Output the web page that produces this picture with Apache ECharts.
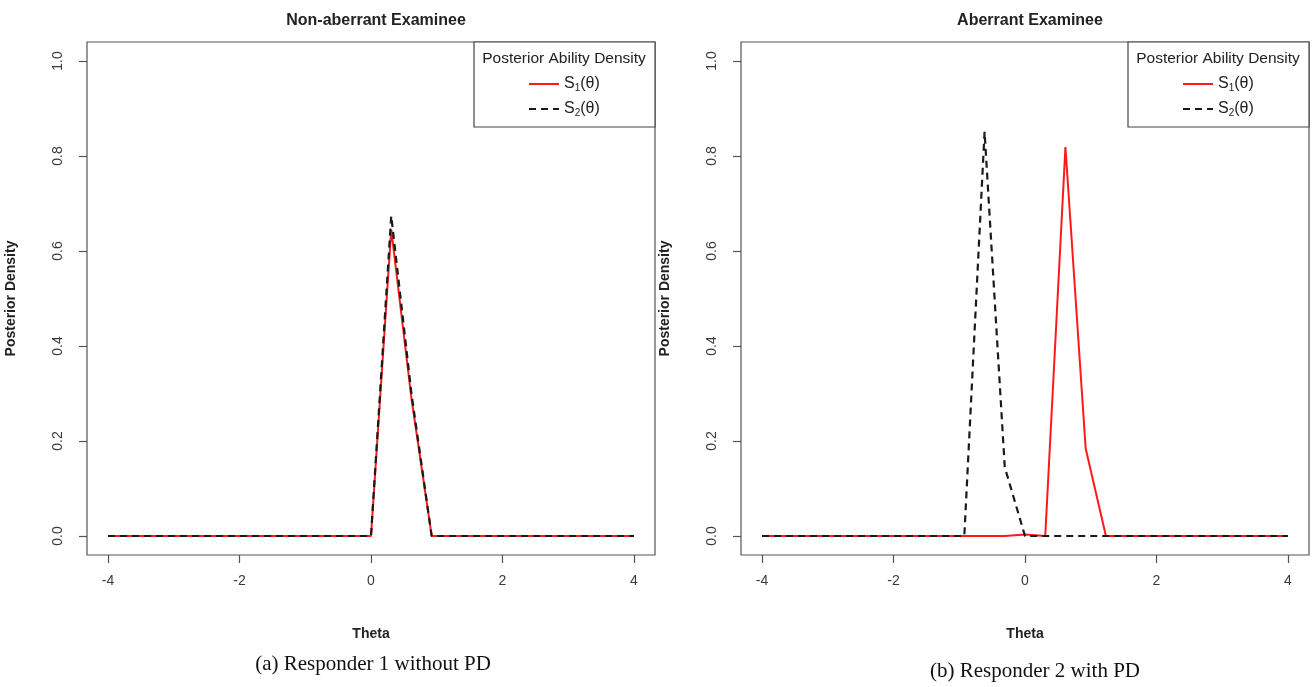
<!DOCTYPE html>
<html>
<head>
<meta charset="utf-8">
<script src="https://cdn.jsdelivr.net/npm/echarts@6/dist/echarts.min.js"></script>
<style>
  html, body { margin: 0; padding: 0; background: #fff; }
  #chart { width: 1316px; height: 687px; }
</style>
</head>
<body>
<div id="chart"></div>
<script>
// quadrature points for theta (27 points, -4 .. 4)
const theta = [
  -4, -3.692, -3.385, -3.077, -2.769, -2.462, -2.154, -1.846, -1.538,
  -1.231, -0.923, -0.615, -0.308, 0, 0.308, 0.615, 0.923, 1.231,
  1.538, 1.846, 2.154, 2.462, 2.769, 3.077, 3.385, 3.692, 4,
];

// (a) non-aberrant examinee
const s1NonAberrant = [
  0, 0, 0, 0, 0, 0, 0, 0, 0, 0, 0, 0, 0, 0, 0.645, 0.29, 0, 0,
  0, 0, 0, 0, 0, 0, 0, 0, 0,
];
const s2NonAberrant = [
  0, 0, 0, 0, 0, 0, 0, 0, 0, 0, 0, 0, 0, 0, 0.674, 0.3, 0, 0,
  0, 0, 0, 0, 0, 0, 0, 0, 0,
];

// (b) aberrant examinee
const s1Aberrant = [
  0, 0, 0, 0, 0, 0, 0, 0, 0, 0, 0, 0, 0, 0.003, 0, 0.819, 0.184, 0,
  0, 0, 0, 0, 0, 0, 0, 0, 0,
];
const s2Aberrant = [
  0, 0, 0, 0, 0, 0, 0, 0, 0, 0, 0, 0.851, 0.145, 0, 0, 0, 0, 0,
  0, 0, 0, 0, 0, 0, 0, 0, 0,
];

const xTicks = [-4, -2, 0, 2, 4];
const yTicks = [0, 0.2, 0.4, 0.6, 0.8, 1.0];

const panelTitles = ['Non-aberrant Examinee', 'Aberrant Examinee'];
const captions = ['(a) Responder 1 without PD', '(b) Responder 2 with PD'];
const legendTitle = 'Posterior Ability Density';
const seriesNames = ['S1', 'S2'];
const legendLabels = { S1: 'S{sub|1}(θ)', S2: 'S{sub|2}(θ)' };

const FONT = '"Liberation Sans", Arial, sans-serif';
const gridLefts = [87, 741];

function pairs(values) {
  return theta.map((t, i) => [t, values[i]]);
}

function makeXAxis(gridIndex) {
  return {
    type: 'value',
    gridIndex,
    min: -4.32,
    max: 4.32,
    name: 'Theta',
    nameLocation: 'middle',
    nameGap: 72,
    nameTextStyle: { fontFamily: FONT, fontWeight: 'bold', fontSize: 14, color: '#222' },
    axisLine: { show: false, onZero: false },
    splitLine: { show: false },
    axisTick: { show: true, inside: false, length: 8, customValues: xTicks, lineStyle: { color: '#555', width: 1.2 } },
    axisLabel: {
      customValues: xTicks,
      margin: 19,
      fontFamily: FONT,
      fontSize: 14,
      color: '#3a3a3a',
      formatter: (v) => String(v),
    },
  };
}

function makeYAxis(gridIndex) {
  return {
    type: 'value',
    gridIndex,
    min: -0.04,
    max: 1.04,
    name: 'Posterior Density',
    nameLocation: 'middle',
    nameGap: 69,
    nameRotate: 90,
    nameTextStyle: { fontFamily: FONT, fontWeight: 'bold', fontSize: 14, color: '#222' },
    axisLine: { show: false, onZero: false },
    splitLine: { show: false },
    axisTick: { show: true, inside: false, length: 8, customValues: yTicks, lineStyle: { color: '#555', width: 1.2 } },
    axisLabel: {
      customValues: yTicks,
      rotate: 90,
      margin: 22,
      fontFamily: FONT,
      fontSize: 14,
      color: '#3a3a3a',
      formatter: (v) => v.toFixed(1),
    },
  };
}

function makeSeries(gridIndex, s1, s2) {
  return [
    {
      name: seriesNames[0],
      type: 'line',
      xAxisIndex: gridIndex,
      yAxisIndex: gridIndex,
      data: pairs(s1),
      symbol: 'none',
      lineStyle: { color: '#ff1a1a', width: 2 },
      itemStyle: { color: '#ff1a1a' },
    },
    {
      name: seriesNames[1],
      type: 'line',
      xAxisIndex: gridIndex,
      yAxisIndex: gridIndex,
      data: pairs(s2),
      symbol: 'none',
      lineStyle: { color: '#1a1a1a', width: 2.2, type: [7, 5] },
      itemStyle: { color: '#1a1a1a' },
    },
  ];
}

function makeLegend(gridLeft) {
  return {
    orient: 'vertical',
    left: gridLeft + 436,
    top: 71,
    z: 60,
    itemWidth: 30,
    itemHeight: 12,
    itemGap: 8,
    data: seriesNames,
    itemStyle: { opacity: 0 },
    formatter: (name) => legendLabels[name],
    textStyle: {
      fontFamily: FONT,
      fontSize: 16,
      color: '#222',
      rich: { sub: { fontSize: 10, padding: [8, 0, 0, 0], fontFamily: FONT, color: '#222' } },
    },
    selectedMode: false,
  };
}

function legendBox(gridLeft) {
  return [
    {
      type: 'rect',
      shape: { x: gridLeft + 387, y: 42, width: 181, height: 85 },
      style: { fill: '#fff', stroke: '#444', lineWidth: 1.2 },
      z: 5,
    },
    {
      type: 'text',
      x: gridLeft + 477,
      y: 51,
      style: { text: legendTitle, font: '15.5px ' + FONT, fill: '#222', align: 'center' },
      z: 6,
    },
  ];
}

const chart = echarts.init(document.getElementById('chart'), null, { renderer: 'canvas' });

chart.setOption({
  backgroundColor: '#fff',
  animation: false,
  title: [
    { text: panelTitles[0], left: 371, top: 8, textAlign: 'center', textStyle: { fontFamily: FONT, fontWeight: 'bold', fontSize: 16, color: '#222' } },
    { text: panelTitles[1], left: 1025, top: 8, textAlign: 'center', textStyle: { fontFamily: FONT, fontWeight: 'bold', fontSize: 16, color: '#222' } },
    { text: captions[0], left: 368, top: 649, textAlign: 'center', textStyle: { fontFamily: '"Liberation Serif", "Times New Roman", serif', fontWeight: 'normal', fontSize: 21, color: '#111' } },
    { text: captions[1], left: 1030, top: 656, textAlign: 'center', textStyle: { fontFamily: '"Liberation Serif", "Times New Roman", serif', fontWeight: 'normal', fontSize: 21, color: '#111' } },
  ],
  grid: gridLefts.map((left) => ({
    left,
    top: 42,
    width: 568,
    height: 513,
    show: true,
    borderColor: '#555',
    borderWidth: 1.2,
    backgroundColor: 'transparent',
  })),
  xAxis: [makeXAxis(0), makeXAxis(1)],
  yAxis: [makeYAxis(0), makeYAxis(1)],
  legend: gridLefts.map((left) => makeLegend(left)),
  graphic: [...legendBox(gridLefts[0]), ...legendBox(gridLefts[1])],
  series: [
    ...makeSeries(0, s1NonAberrant, s2NonAberrant),
    ...makeSeries(1, s1Aberrant, s2Aberrant),
  ],
});
</script>
</body>
</html>
